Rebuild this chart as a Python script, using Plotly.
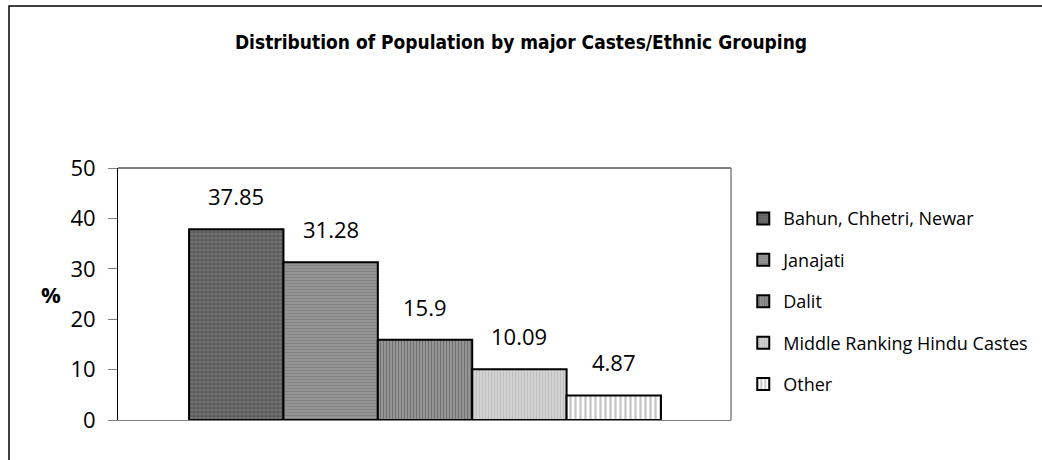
import plotly.graph_objects as go

categories = ["Bahun, Chhetri, Newar", "Janajati", "Dalit", "Middle Ranking Hindu Castes", "Other"]
values = [37.85, 31.28, 15.9, 10.09, 4.87]
labels = ["37.85", "31.28", "15.9", "10.09", "4.87"]
y_ticks = [0, 10, 20, 30, 40, 50]

patterns = [
    dict(shape=".", bgcolor="#5c5c5c", fgcolor="#8c8c8c", size=4, solidity=0.5),
    dict(shape="-", bgcolor="#9a9a9a", fgcolor="#6a6a6a", size=3, solidity=0.5),
    dict(shape="|", bgcolor="#a0a0a0", fgcolor="#404040", size=3, solidity=0.5),
    dict(shape="|", bgcolor="#d8d8d8", fgcolor="#a8a8a8", size=3, solidity=0.5),
    dict(shape="|", bgcolor="#ffffff", fgcolor="#8a8a8a", size=5, solidity=0.45),
]

FONT = "Open Sans"
fig = go.Figure()
for i, (cat, val) in enumerate(zip(categories, values)):
    fig.add_trace(go.Bar(
        x=[i], y=[val], width=1, name=cat, legendgroup=cat,
        marker=dict(color=patterns[i]["bgcolor"], pattern=patterns[i],
                    line=dict(color="black", width=2)),
        hoverinfo="skip",
    ))
    fig.add_annotation(x=i, y=val, text=labels[i], showarrow=False,
                       yanchor="bottom", yshift=16,
                       font=dict(family=FONT, size=22, color="black"))

fig.add_annotation(xref="paper", yref="paper", x=-0.1093, y=0.5, text="<b>%</b>",
                   xanchor="center", yanchor="middle",
                   showarrow=False, font=dict(family=FONT, size=22, color="black"))

fig.update_layout(
    width=1042, height=460,
    margin=dict(l=118, r=311, t=168, b=40, autoexpand=False),
    paper_bgcolor="white", plot_bgcolor="white",
    barmode="overlay",
    font=dict(family=FONT, color="black"),
    title=dict(text="<b>Distribution of Population by major Castes/Ethnic Grouping</b>",
               x=0.5, xref="container", y=1 - 42 / 460, yanchor="middle",
               font=dict(family="DejaVu Sans Condensed", size=19, color="black")),
    showlegend=True,
    legend=dict(x=1.02, xanchor="left", y=0.872, yanchor="top",
                font=dict(family=FONT, size=18, color="black"),
                tracegroupgap=15, bgcolor="rgba(0,0,0,0)"),
    xaxis=dict(range=[-1.253, 5.242], showticklabels=False, ticks="",
               showgrid=False, zeroline=False, showline=True,
               linecolor="#808080", linewidth=1),
    yaxis=dict(range=[0, 50], tickvals=y_ticks, ticks="outside", ticklen=9,
               tickcolor="#808080", tickwidth=1, ticklabelstandoff=8,
               showgrid=False, zeroline=False, showline=True,
               linecolor="black", linewidth=1,
               tickfont=dict(family=FONT, size=22, color="black")),
    shapes=[
        dict(type="line", xref="paper", yref="paper", x0=0, x1=1, y0=1, y1=1,
             line=dict(color="black", width=1)),
        dict(type="line", xref="paper", yref="paper", x0=1, x1=1, y0=0, y1=1,
             line=dict(color="#808080", width=1.5)),
        dict(type="rect", xref="paper", yref="paper", x0=-0.1778, x1=1.7,
             y0=-0.4, y1=1.643, line=dict(color="black", width=1.5)),
    ],
)

fig.write_html("out.html")
